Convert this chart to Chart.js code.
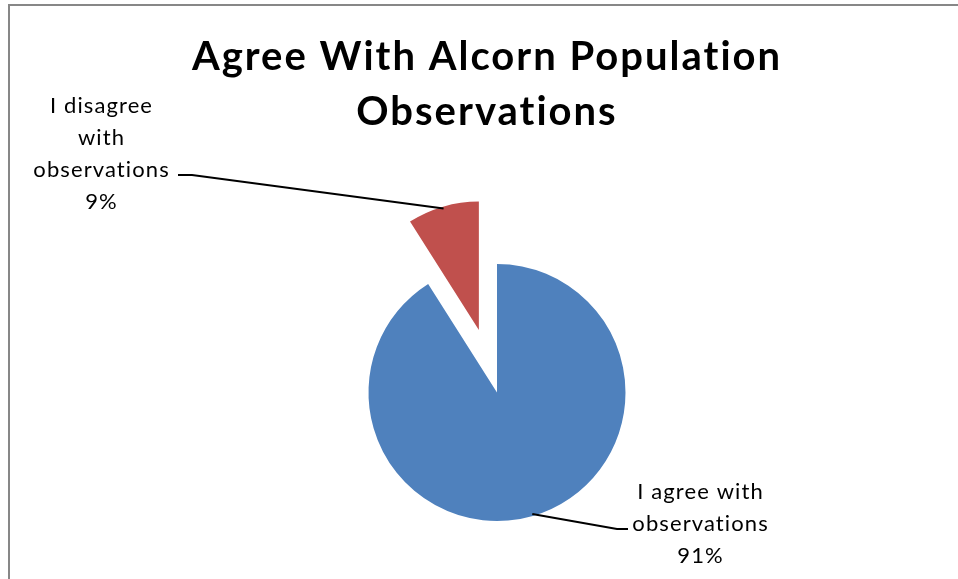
<!DOCTYPE html>
<html>
<head>
<meta charset="utf-8">
<script src="https://cdn.jsdelivr.net/npm/chart.js@4.4.0/dist/chart.umd.min.js"></script>
<style>
  html, body { margin: 0; padding: 0; background: #ffffff; }
  #wrap { position: relative; width: 958px; height: 579px; }
</style>
</head>
<body>
<div id="wrap"><canvas id="survey" width="958" height="579"></canvas></div>
<script>
// Survey answers
const categories = ['I agree with observations', 'I disagree with observations'];
const shares = [91, 9];

// Text shown on the chart
const titleLines = ['Agree With Alcorn Population', 'Observations'];
const labelLines = [
  ['I agree with', 'observations'],
  ['I disagree', 'with', 'observations']
];

const sliceColors = ['#4F81BD', '#C0504D'];

// Pulls a slice out from the centre along its middle angle.
const explodePlugin = {
  id: 'explode',
  afterDatasetsUpdate(chart, args, opts) {
    const meta = chart.getDatasetMeta(0);
    meta.data.forEach((arc, i) => {
      const d = (opts.distance || [])[i] || 0;
      if (!d) return;
      const mid = (arc.startAngle + arc.endAngle) / 2;
      arc.x += Math.cos(mid) * d;
      arc.y += Math.sin(mid) * d;
    });
  }
};

// Outer frame of the chart box.
const framePlugin = {
  id: 'frame',
  beforeDraw(chart, args, opts) {
    const ctx = chart.ctx;
    ctx.save();
    ctx.strokeStyle = opts.color;
    ctx.lineWidth = opts.width;
    ctx.beginPath();
    ctx.moveTo(opts.left, chart.height);
    ctx.lineTo(opts.left, opts.top);
    ctx.lineTo(chart.width, opts.top);
    ctx.stroke();
    ctx.restore();
  }
};

// Draws centred text; with letter spacing the trailing gap is compensated.
function centredText(ctx, text, x, y, spacing) {
  ctx.fillText(text, x + spacing / 2, y);
}

// Two-line heading above the pie.
const headingPlugin = {
  id: 'heading',
  afterDraw(chart, args, opts) {
    const ctx = chart.ctx;
    ctx.save();
    ctx.fillStyle = opts.color;
    ctx.font = opts.font;
    ctx.textAlign = 'center';
    ctx.textBaseline = 'alphabetic';
    if ('letterSpacing' in ctx) ctx.letterSpacing = opts.letterSpacing + 'px';
    titleLines.forEach((line, i) => {
      centredText(ctx, line, opts.x, opts.y + i * opts.lineHeight, opts.letterSpacing);
    });
    ctx.restore();
  }
};

// Category name + percentage beside each slice, joined by a leader line.
const sliceLabelPlugin = {
  id: 'sliceLabels',
  afterDraw(chart, args, opts) {
    const ctx = chart.ctx;
    const meta = chart.getDatasetMeta(0);
    const data = chart.data.datasets[0].data;
    const total = data.reduce((a, b) => a + b, 0);
    meta.data.forEach((arc, i) => {
      const spot = opts.spots[i];
      const mid = (arc.startAngle + arc.endAngle) / 2;
      const r = arc.outerRadius - opts.inset;
      const sx = arc.x + Math.cos(mid) * r;
      const sy = arc.y + Math.sin(mid) * r;

      ctx.save();
      ctx.strokeStyle = opts.lineColor;
      ctx.lineWidth = opts.lineWidth;
      ctx.beginPath();
      ctx.moveTo(sx, sy);
      ctx.lineTo(spot.elbowX, spot.elbowY);
      ctx.lineTo(spot.endX, spot.elbowY);
      ctx.stroke();

      ctx.fillStyle = opts.color;
      ctx.font = opts.font;
      ctx.textAlign = 'center';
      ctx.textBaseline = 'alphabetic';
      if ('letterSpacing' in ctx) ctx.letterSpacing = opts.letterSpacing + 'px';
      const lines = labelLines[i].concat([Math.round(data[i] / total * 100) + '%']);
      lines.forEach((line, k) => {
        centredText(ctx, line, spot.x, spot.y + k * opts.lineHeight, opts.letterSpacing);
      });
      ctx.restore();
    });
  }
};

function build() {
  new Chart(document.getElementById('survey'), {
    type: 'pie',
    data: {
      labels: categories,
      datasets: [{
        data: shares,
        backgroundColor: sliceColors,
        borderWidth: 0,
        radius: 128.5
      }]
    },
    options: {
      responsive: false,
      animation: false,
      events: [],
      layout: { padding: { left: 36, right: 0, top: 206, bottom: 0 } },
      plugins: {
        legend: { display: false },
        tooltip: { enabled: false },
        title: { display: false },
        explode: { distance: [0, 65] },
        frame: { color: '#878787', width: 2, left: 9, top: 5 },
        heading: {
          font: 'bold 40px Lato',
          color: '#000000',
          x: 486,
          y: 70,
          lineHeight: 55,
          letterSpacing: 2
        },
        sliceLabels: {
          font: '22px Lato',
          color: '#000000',
          lineHeight: 32,
          letterSpacing: 1.1,
          lineColor: '#000000',
          lineWidth: 2,
          inset: 2,
          spots: [
            { x: 700, y: 499, elbowX: 617, elbowY: 529, endX: 628 },
            { x: 101, y: 113, elbowX: 192, elbowY: 175, endX: 178 }
          ]
        }
      }
    },
    plugins: [explodePlugin, framePlugin, headingPlugin, sliceLabelPlugin]
  });
}

if (document.fonts && document.fonts.load) {
  Promise.all([
    document.fonts.load('bold 40px Lato'),
    document.fonts.load('22px Lato')
  ]).then(build, build);
} else {
  build();
}
</script>
</body>
</html>
